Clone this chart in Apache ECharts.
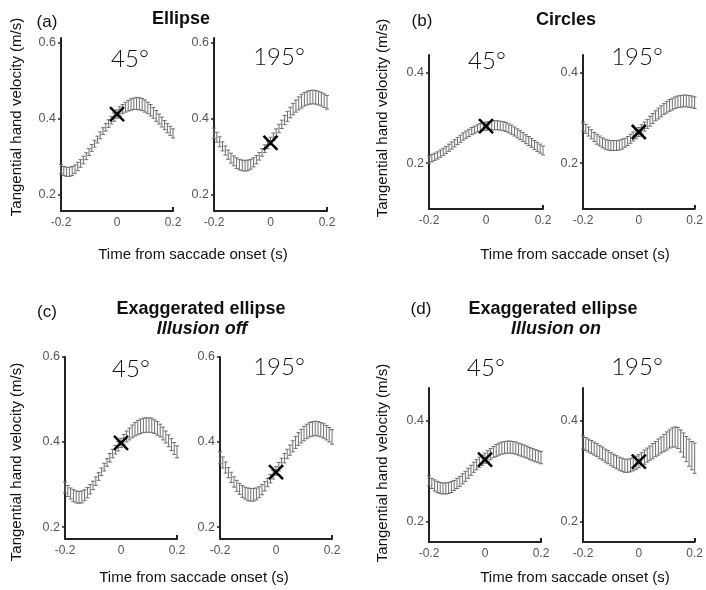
<!DOCTYPE html>
<html>
<head>
<meta charset="utf-8">
<script src="https://cdn.jsdelivr.net/npm/echarts@6/dist/echarts.min.js"></script>
<style>
  html, body { margin: 0; padding: 0; background: #fff; }
  #main { width: 706px; height: 590px; }
</style>
</head>
<body>
<div id="main"></div>
<script>
// time from saccade onset (s)
var times = [-0.20,-0.19,-0.18,-0.17,-0.16,-0.15,-0.14,-0.13,-0.12,-0.11,-0.10,-0.09,-0.08,-0.07,-0.06,-0.05,-0.04,-0.03,-0.02,-0.01,
  0.00,0.01,0.02,0.03,0.04,0.05,0.06,0.07,0.08,0.09,0.10,0.11,0.12,0.13,0.14,0.15,0.16,0.17,0.18,0.19,0.20];

// (a) Ellipse
var ellipse45 = [0.268,0.263,0.261,0.261,0.263,0.268,0.275,0.283,0.292,0.302,0.313,0.324,0.335,0.346,0.357,0.368,0.378,0.388,0.397,0.405,
  0.413,0.420,0.426,0.431,0.435,0.438,0.440,0.441,0.440,0.438,0.434,0.429,0.423,0.416,0.408,0.400,0.392,0.384,0.376,0.369,0.362];
var ellipse45Err = [0.012,0.012,0.012,0.012,0.012,0.011,0.011,0.010,0.010,0.009,0.009,0.009,0.009,0.009,0.009,0.009,0.010,0.010,0.010,0.011,
  0.011,0.012,0.012,0.013,0.014,0.015,0.015,0.016,0.016,0.016,0.016,0.015,0.015,0.014,0.014,0.013,0.013,0.012,0.012,0.012,0.012];
var ellipse195 = [0.362,0.352,0.340,0.328,0.317,0.306,0.297,0.290,0.284,0.280,0.278,0.277,0.278,0.281,0.286,0.293,0.302,0.312,0.322,0.332,
  0.342,0.353,0.364,0.375,0.386,0.397,0.407,0.417,0.426,0.434,0.441,0.447,0.452,0.455,0.457,0.458,0.457,0.455,0.452,0.448,0.444];
var ellipse195Err = [0.014,0.013,0.013,0.012,0.012,0.012,0.013,0.013,0.014,0.014,0.014,0.014,0.014,0.013,0.012,0.011,0.010,0.010,0.010,0.010,
  0.010,0.010,0.010,0.011,0.011,0.012,0.013,0.014,0.015,0.016,0.017,0.018,0.018,0.018,0.018,0.018,0.018,0.018,0.018,0.018,0.018];

// (b) Circles
var circles45 = [0.208,0.211,0.214,0.217,0.221,0.225,0.229,0.234,0.239,0.244,0.249,0.254,0.259,0.263,0.267,0.271,0.274,0.277,0.279,0.281,
  0.282,0.283,0.284,0.284,0.284,0.283,0.282,0.280,0.277,0.274,0.270,0.266,0.262,0.258,0.253,0.249,0.245,0.240,0.236,0.232,0.228];
var circles45Err = [0.008,0.008,0.008,0.008,0.008,0.008,0.008,0.008,0.008,0.008,0.008,0.008,0.008,0.008,0.008,0.008,0.008,0.008,0.009,0.009,
  0.009,0.009,0.010,0.010,0.010,0.010,0.010,0.010,0.010,0.010,0.010,0.010,0.010,0.010,0.010,0.010,0.010,0.010,0.010,0.010,0.010];
var circles195 = [0.281,0.276,0.270,0.264,0.258,0.253,0.249,0.245,0.242,0.240,0.239,0.239,0.239,0.240,0.242,0.245,0.249,0.254,0.259,0.264,
  0.269,0.275,0.281,0.287,0.293,0.299,0.305,0.310,0.315,0.320,0.324,0.328,0.331,0.334,0.336,0.337,0.338,0.338,0.337,0.336,0.334];
var circles195Err = [0.010,0.010,0.010,0.010,0.010,0.011,0.011,0.011,0.011,0.011,0.011,0.011,0.011,0.011,0.011,0.010,0.010,0.010,0.010,0.010,
  0.010,0.010,0.010,0.010,0.011,0.011,0.011,0.012,0.012,0.012,0.013,0.013,0.013,0.013,0.013,0.013,0.013,0.013,0.013,0.013,0.013];

// (c) Exaggerated ellipse, illusion off
var offDeg45 = [0.293,0.285,0.279,0.274,0.271,0.270,0.271,0.275,0.281,0.289,0.298,0.308,0.319,0.330,0.341,0.352,0.363,0.373,0.382,0.390,
  0.398,0.406,0.413,0.419,0.425,0.430,0.434,0.437,0.439,0.440,0.440,0.439,0.436,0.432,0.427,0.420,0.412,0.403,0.394,0.385,0.377];
var offDeg45Err = [0.013,0.013,0.013,0.014,0.014,0.014,0.014,0.013,0.012,0.011,0.010,0.010,0.009,0.009,0.009,0.009,0.010,0.010,0.010,0.011,
  0.011,0.012,0.013,0.014,0.015,0.016,0.017,0.017,0.017,0.017,0.017,0.017,0.016,0.016,0.015,0.015,0.014,0.014,0.014,0.014,0.014];
var offDeg195 = [0.363,0.352,0.340,0.328,0.317,0.306,0.297,0.290,0.284,0.280,0.277,0.276,0.276,0.278,0.282,0.288,0.296,0.305,0.314,0.323,
  0.332,0.342,0.352,0.362,0.372,0.381,0.390,0.399,0.407,0.414,0.420,0.425,0.429,0.431,0.432,0.431,0.429,0.426,0.422,0.417,0.412];
var offDeg195Err = [0.014,0.013,0.013,0.012,0.012,0.012,0.013,0.013,0.014,0.014,0.015,0.015,0.015,0.014,0.013,0.012,0.011,0.010,0.010,0.010,
  0.010,0.010,0.010,0.011,0.011,0.012,0.013,0.014,0.015,0.016,0.017,0.017,0.017,0.017,0.017,0.017,0.017,0.017,0.017,0.017,0.017];

// (d) Exaggerated ellipse, illusion on
var onDeg45 = [0.281,0.276,0.272,0.269,0.267,0.266,0.266,0.267,0.269,0.272,0.276,0.280,0.285,0.290,0.296,0.302,0.308,0.313,0.318,0.322,
  0.326,0.330,0.334,0.338,0.341,0.344,0.346,0.347,0.348,0.348,0.347,0.346,0.344,0.342,0.340,0.338,0.335,0.333,0.331,0.329,0.327];
var onDeg45Err = [0.010,0.010,0.011,0.011,0.011,0.011,0.011,0.011,0.011,0.010,0.010,0.010,0.010,0.010,0.010,0.010,0.010,0.010,0.010,0.010,
  0.010,0.011,0.011,0.011,0.012,0.012,0.012,0.012,0.012,0.012,0.012,0.012,0.012,0.012,0.012,0.012,0.012,0.012,0.012,0.012,0.012];
var onDeg195 = [0.357,0.354,0.351,0.348,0.345,0.342,0.338,0.335,0.331,0.328,0.324,0.321,0.318,0.315,0.313,0.311,0.311,0.312,0.314,0.317,
  0.320,0.324,0.328,0.332,0.336,0.340,0.344,0.348,0.352,0.356,0.360,0.364,0.367,0.368,0.366,0.360,0.352,0.344,0.337,0.331,0.326];
var onDeg195Err = [0.013,0.013,0.013,0.013,0.013,0.013,0.013,0.013,0.013,0.013,0.013,0.013,0.013,0.013,0.013,0.013,0.013,0.013,0.013,0.013,
  0.013,0.013,0.014,0.014,0.014,0.015,0.015,0.016,0.016,0.017,0.018,0.018,0.019,0.020,0.021,0.022,0.024,0.025,0.027,0.028,0.030];

// "x" marker at saccade onset, one per subplot
var onsetTime = 0;
var onsetValues = [0.413, 0.337, 0.282, 0.269, 0.398, 0.329, 0.323, 0.319];

var curves = [ellipse45, ellipse195, circles45, circles195, offDeg45, offDeg195, onDeg45, onDeg195];
var curveErrs = [ellipse45Err, ellipse195Err, circles45Err, circles195Err, offDeg45Err, offDeg195Err, onDeg45Err, onDeg195Err];

var xTicks = [-0.2, 0, 0.2];
var xTickLabels = ['-0.2', '0', '0.2'];
var yTicks = [[0.2, 0.4, 0.6], [0.2, 0.4, 0.6], [0.2, 0.4], [0.2, 0.4], [0.2, 0.4, 0.6], [0.2, 0.4, 0.6], [0.2, 0.4], [0.2, 0.4]];
var angleLabels = ['45°', '195°', '45°', '195°', '45°', '195°', '45°', '195°'];

// layout (px) and y ranges for the eight little plots
var boxes = [
  {left: 61,  top: 38,  width: 112, height: 173, ymin: 0.158, ymax: 0.613},
  {left: 214, top: 38,  width: 113, height: 173, ymin: 0.158, ymax: 0.613},
  {left: 429, top: 55,  width: 114, height: 154, ymin: 0.098, ymax: 0.440},
  {left: 583, top: 55,  width: 113, height: 154, ymin: 0.098, ymax: 0.440},
  {left: 65,  top: 357, width: 112, height: 182, ymin: 0.172, ymax: 0.600},
  {left: 220, top: 357, width: 112, height: 182, ymin: 0.172, ymax: 0.600},
  {left: 429, top: 388, width: 112, height: 154, ymin: 0.160, ymax: 0.465},
  {left: 583, top: 388, width: 112, height: 154, ymin: 0.160, ymax: 0.465}
];
var anglePos = [[130, 59], [279, 57], [487, 61], [637, 57], [131, 369], [279, 367], [486, 368], [637, 367]];

var chart = echarts.init(document.getElementById('main'));

function renderErrorBar(params, api) {
  var t = api.value(0), m = api.value(1), e = api.value(2);
  var hi = api.coord([t, m + e]);
  var lo = api.coord([t, m - e]);
  var w = 2;
  var st = {stroke: '#6e6e6e', lineWidth: 1};
  return {
    type: 'group',
    children: [
      {type: 'line', shape: {x1: hi[0], y1: hi[1], x2: lo[0], y2: lo[1]}, style: st},
      {type: 'line', shape: {x1: hi[0] - w, y1: hi[1], x2: hi[0] + w, y2: hi[1]}, style: st},
      {type: 'line', shape: {x1: lo[0] - w, y1: lo[1], x2: lo[0] + w, y2: lo[1]}, style: st}
    ]
  };
}

function renderCross(params, api) {
  var p = api.coord([api.value(0), api.value(1)]);
  var s = 7;
  var st = {stroke: '#000', lineWidth: 2.5};
  return {
    type: 'group',
    children: [
      {type: 'line', shape: {x1: p[0] - s, y1: p[1] - s, x2: p[0] + s, y2: p[1] + s}, style: st},
      {type: 'line', shape: {x1: p[0] - s, y1: p[1] + s, x2: p[0] + s, y2: p[1] - s}, style: st}
    ]
  };
}

var grids = [], xAxes = [], yAxes = [], series = [];
var labelFont = 'Liberation Sans';

boxes.forEach(function (b, i) {
  grids.push({left: b.left, top: b.top, width: b.width, height: b.height, containLabel: false});
  xAxes.push({
    type: 'value', gridIndex: i, min: -0.2, max: 0.2,
    axisLine: {onZero: false, lineStyle: {color: '#222', width: 2}},
    axisTick: {inside: true, length: 4, customValues: [-0.2, 0.2], lineStyle: {color: '#222', width: 2}},
    axisLabel: {
      customValues: xTicks, margin: 6, color: '#555', fontSize: 12, fontFamily: labelFont,
      formatter: function (v) { return xTickLabels[xTicks.indexOf(Math.round(v * 10) / 10)]; }
    },
    splitLine: {show: false}
  });
  yAxes.push({
    type: 'value', gridIndex: i, min: b.ymin, max: b.ymax,
    axisLine: {show: true, onZero: false, lineStyle: {color: '#222', width: 2}},
    axisTick: {show: true, length: 3, customValues: yTicks[i], lineStyle: {color: '#222', width: 1.5}},
    axisLabel: {customValues: yTicks[i], margin: 5, color: '#555', fontSize: 12.5, fontFamily: labelFont,
      formatter: function (v) { return v.toFixed(1); }},
    splitLine: {show: false}
  });
  series.push({
    type: 'custom', xAxisIndex: i, yAxisIndex: i,
    renderItem: renderErrorBar,
    encode: {x: 0, y: [1]},
    data: times.map(function (t, k) { return [t, curves[i][k], curveErrs[i][k]]; }),
    silent: true
  });
  series.push({
    type: 'custom', xAxisIndex: i, yAxisIndex: i,
    renderItem: renderCross,
    encode: {x: 0, y: 1},
    data: [[onsetTime, onsetValues[i]]],
    z: 5, silent: true
  });
});

var graphics = [];
function addText(x, y, text, font, rot) {
  graphics.push({
    type: 'text', x: x, y: y, rotation: rot || 0,
    style: {text: text, font: font, fill: '#111', textAlign: 'center', textVerticalAlign: 'middle'}
  });
}

// panel letters and titles
addText(47, 22, '(a)', '17px Liberation Sans');
addText(181, 19, 'Ellipse', 'bold 18px Liberation Sans');
addText(422, 21, '(b)', '17px Liberation Sans');
addText(566, 20, 'Circles', 'bold 18px Liberation Sans');
addText(47, 312, '(c)', '17px Liberation Sans');
addText(201, 309, 'Exaggerated ellipse', 'bold 18px Liberation Sans');
addText(202, 329, 'Illusion off', 'italic bold 18px Liberation Sans');
addText(421, 309, '(d)', '17px Liberation Sans');
addText(553, 309, 'Exaggerated ellipse', 'bold 18px Liberation Sans');
addText(556, 329, 'Illusion on', 'italic bold 18px Liberation Sans');

// axis names
var yName = 'Tangential hand velocity (m/s)';
var xName = 'Time from saccade onset (s)';
addText(17, 117, yName, '15px Liberation Sans', Math.PI / 2);
addText(383, 118, yName, '15px Liberation Sans', Math.PI / 2);
addText(17, 462, yName, '15px Liberation Sans', Math.PI / 2);
addText(383, 463, yName, '15px Liberation Sans', Math.PI / 2);
addText(193, 255, xName, '15px Liberation Sans');
addText(575, 255, xName, '15px Liberation Sans');
addText(194, 578, xName, '15px Liberation Sans');
addText(575, 578, xName, '15px Liberation Sans');

// direction labels
anglePos.forEach(function (p, i) {
  addText(p[0], p[1], angleLabels[i], '300 24px Lato');
});

chart.setOption({
  backgroundColor: '#fff',
  animation: false,
  grid: grids,
  xAxis: xAxes,
  yAxis: yAxes,
  series: series,
  graphic: graphics
});
</script>
</body>
</html>
